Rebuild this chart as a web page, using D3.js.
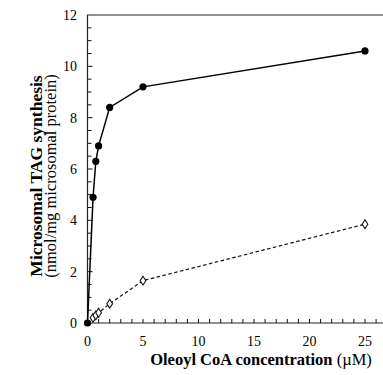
<!DOCTYPE html>
<html>
<head>
<meta charset="utf-8">
<script src="https://cdn.jsdelivr.net/npm/d3@7"></script>
<style>
  body { margin: 0; background: #fff; }
  svg { display: block; }
  text { font-family: "Liberation Serif", "Times New Roman", serif; fill: #000; }
</style>
</head>
<body>
<script>
// oleoyl CoA concentration (uM)
const conc = [0, 0.5, 0.75, 1, 2, 5, 25]
// microsomal TAG synthesis, nmol/mg protein
const tagSolid = [0, 4.9, 6.3, 6.9, 8.4, 9.2, 10.6]
const tagOpen = [0, 0.2, 0.3, 0.4, 0.75, 1.65, 3.85]
const xTicks = [0, 5, 10, 15, 20, 25]
const yTicks = [0, 2, 4, 6, 8, 10, 12]

const W = 383, H = 375
const svg = d3.select("body").append("svg")
    .attr("width", W)
    .attr("height", H)

const x = d3.scaleLinear().domain([0, 27]).range([87.5, 387.2])
const y = d3.scaleLinear().domain([0, 12]).range([323, 15])

// minor ticks, pointing inside
const g = svg.append("g").attr("stroke", "#111").attr("stroke-width", 1)
g.selectAll("line.xt").data(d3.range(1, 27)).join("line")
    .attr("x1", d => x(d)).attr("x2", d => x(d))
    .attr("y1", y(0)).attr("y2", y(0) - 4)
g.selectAll("line.yt").data(d3.range(0.5, 12, 0.5)).join("line")
    .attr("x1", x(0)).attr("x2", d => x(0) + (d % 2 === 0 ? 5 : 4))
    .attr("y1", d => y(d)).attr("y2", d => y(d))

// frame: left, bottom, top
svg.append("path")
    .attr("d", `M${x(27)},${y(12)}H${x(0)}V${y(0)}H${x(27)}`)
    .attr("fill", "none")
    .attr("stroke", "#222")
    .attr("stroke-width", 1.2)

// tick labels
svg.selectAll("text.xl").data(xTicks).join("text")
    .attr("x", d => x(d)).attr("y", 345.5)
    .attr("text-anchor", "middle")
    .style("font-size", "14px")
    .text(d => d)
svg.selectAll("text.yl").data(yTicks).join("text")
    .attr("x", 77).attr("y", d => y(d) + 5)
    .attr("text-anchor", "end")
    .style("font-size", "14px")
    .text(d => d)

// open diamonds series, dashed
const lineOpen = d3.line().x((d, i) => x(conc[i])).y(d => y(d))
svg.append("path")
    .attr("d", lineOpen(tagOpen))
    .attr("fill", "none")
    .attr("stroke", "#111")
    .attr("stroke-width", 1.2)
    .attr("stroke-dasharray", "3.5,2.5")
svg.selectAll("path.dia").data(tagOpen.slice(1)).join("path")
    .attr("d", d3.symbol(d3.symbolDiamond, 28))
    .attr("transform", (d, i) => `translate(${x(conc[i + 1])},${y(d)}) scale(1,0.9)`)
    .attr("fill", "#fff")
    .attr("stroke", "#111")
    .attr("stroke-width", 1.1)

// solid circles series
svg.append("path")
    .attr("d", lineOpen(tagSolid))
    .attr("fill", "none")
    .attr("stroke", "#000")
    .attr("stroke-width", 1.5)
svg.selectAll("circle").data(tagSolid).join("circle")
    .attr("cx", (d, i) => x(conc[i]))
    .attr("cy", d => y(d))
    .attr("r", 3.6)
    .attr("fill", "#000")

// axis titles
const xt = svg.append("text")
    .attr("x", 261).attr("y", 365)
    .attr("text-anchor", "middle")
    .style("font-size", "16.5px")
xt.append("tspan").style("font-weight", "bold").text("Oleoyl CoA concentration")
xt.append("tspan").text(" (\u00b5M)")

const yt = svg.append("g").attr("transform", "translate(0,176) rotate(-90)")
yt.append("text")
    .attr("x", 0).attr("y", 41.5)
    .attr("text-anchor", "middle")
    .style("font-size", "17.5px")
    .style("font-weight", "bold")
    .text("Microsomal TAG synthesis")
yt.append("text")
    .attr("x", 0).attr("y", 55.5)
    .attr("text-anchor", "middle")
    .style("font-size", "16.5px")
    .text("(nmol/mg microsomal protein)")
</script>
</body>
</html>
